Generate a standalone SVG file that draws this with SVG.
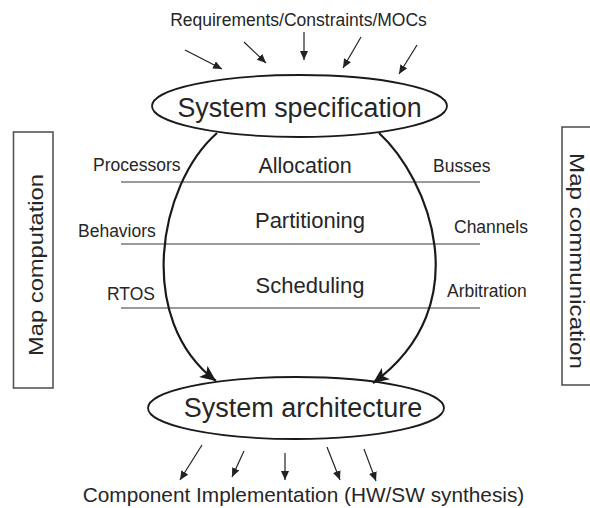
<svg xmlns="http://www.w3.org/2000/svg" width="590" height="508" viewBox="0 0 590 508">
<style>
text{font-family:"Liberation Sans",Arial,sans-serif;fill:#262626}
.ell{fill:none;stroke:#1a1a1a;stroke-width:1.8}
.box{fill:none;stroke:#555;stroke-width:1.6}
.hl{stroke:#7a7a7a;stroke-width:1.6}
.curve{fill:none;stroke:#1a1a1a;stroke-width:2.2}
.sa{stroke:#222;stroke-width:1.2;fill:none}
</style>
<defs>
<marker id="big" markerUnits="userSpaceOnUse" markerWidth="18" markerHeight="14" refX="16" refY="7" orient="auto">
<path d="M0,0 L16,7 L0,14 L4,7 Z" fill="#1a1a1a"/>
</marker>
<marker id="sm" markerUnits="userSpaceOnUse" markerWidth="10" markerHeight="8" refX="9" refY="4" orient="auto">
<path d="M0,0 L9,4 L0,8 Z" fill="#222"/>
</marker>
</defs>
<g id="connectors">
<line class="hl" x1="121" y1="182" x2="480" y2="182"/>
<line class="hl" x1="121" y1="244" x2="480" y2="244"/>
<line class="hl" x1="121" y1="308" x2="480" y2="308"/>
<path class="curve" d="M217,133 C158,185 135,320 216,381" marker-end="url(#big)"/>
<path class="curve" d="M379,133 C428,178 480,305 373,383" marker-end="url(#big)"/>
<line class="sa" x1="185" y1="50" x2="222" y2="69" marker-end="url(#sm)"/>
<line class="sa" x1="244" y1="42" x2="266" y2="63" marker-end="url(#sm)"/>
<line class="sa" x1="304" y1="32" x2="304" y2="60" marker-end="url(#sm)"/>
<line class="sa" x1="361" y1="37" x2="343" y2="68" marker-end="url(#sm)"/>
<line class="sa" x1="417" y1="45" x2="399" y2="74" marker-end="url(#sm)"/>
<line class="sa" x1="202" y1="445" x2="180" y2="480" marker-end="url(#sm)"/>
<line class="sa" x1="244" y1="451" x2="232" y2="477" marker-end="url(#sm)"/>
<line class="sa" x1="285" y1="453" x2="285" y2="480" marker-end="url(#sm)"/>
<line class="sa" x1="327" y1="447" x2="340" y2="480" marker-end="url(#sm)"/>
<line class="sa" x1="364" y1="449" x2="376" y2="481" marker-end="url(#sm)"/>
</g>
<g id="inputs">
<text x="298.5" y="26" font-size="17.5" text-anchor="middle">Requirements/Constraints/MOCs</text>
</g>
<g id="spec">
<ellipse class="ell" cx="299.5" cy="106" rx="147.5" ry="31"/>
<text x="299.5" y="117" font-size="26.8" text-anchor="middle">System specification</text>
</g>
<g id="arch">
<ellipse class="ell" cx="296" cy="408" rx="148" ry="31"/>
<text x="303" y="417" font-size="27" text-anchor="middle">System architecture</text>
</g>
<g id="outputs">
<text x="303.5" y="502" font-size="20.8" text-anchor="middle">Component Implementation (HW/SW synthesis)</text>
</g>
<g id="map-computation">
<rect class="box" x="13.5" y="132" width="39.5" height="256"/>
<text transform="translate(43,265) rotate(-90) scale(1.13,1)" font-size="21" text-anchor="middle">Map computation</text>
</g>
<g id="map-communication">
<rect class="box" x="562" y="127" width="40" height="258"/>
<text transform="translate(570,261) rotate(90) scale(1.15,1)" font-size="21" text-anchor="middle">Map communication</text>
</g>
<g id="labels">
<text x="305" y="173" font-size="21.5" text-anchor="middle">Allocation</text>
<text x="310" y="228" font-size="22" text-anchor="middle">Partitioning</text>
<text x="310" y="293" font-size="22" text-anchor="middle">Scheduling</text>
<text x="93" y="171" font-size="17.5">Processors</text>
<text x="78" y="237" font-size="17.5">Behaviors</text>
<text x="107" y="300" font-size="17.5">RTOS</text>
<text x="433" y="172" font-size="17.5">Busses</text>
<text x="454" y="233" font-size="17.5">Channels</text>
<text x="447" y="297" font-size="17.5">Arbitration</text>
</g>
</svg>
